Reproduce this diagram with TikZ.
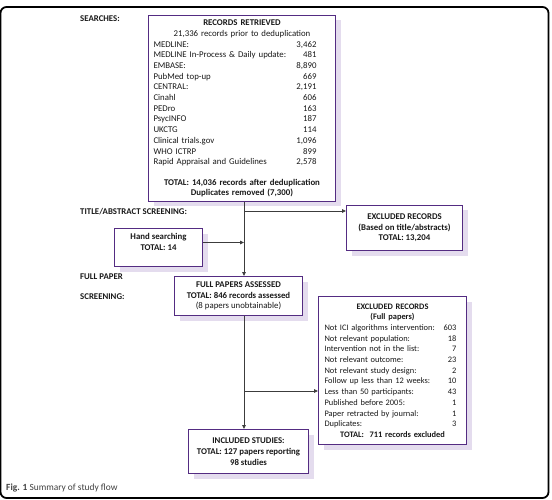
\documentclass[tikz,border=0pt]{standalone}
\usepackage{fontspec}
\setmainfont{Carlito}
\usetikzlibrary{arrows.meta, positioning, shadows}

\definecolor{boxpurple}{RGB}{84,44,130}
\definecolor{shadowlilac}{RGB}{228,220,238}
\definecolor{linkgrey}{RGB}{60,60,60}

\newcommand\srcrow[2]{\makebox[177pt][l]{\makebox[163pt]{#1\hfill#2}}}
\newcommand\exrow[2]{\makebox[138pt][l]{\hspace*{1pt}\makebox[132pt]{#1\hfill#2}}}

\begin{document}
\begin{tikzpicture}[
  x=1pt, y=-1pt,
  every node/.style={font=\fontsize{8.8}{10.7}\selectfont, text=black!90},
  box/.style={draw=boxpurple, line width=1pt, fill=white, align=center,
    inner xsep=5pt, inner ysep=3pt,
    drop shadow={shadow xshift=5pt, shadow yshift=-5pt, fill=shadowlilac, opacity=1}},
  stage/.style={font=\fontsize{8.8}{10.7}\selectfont\bfseries, anchor=west, inner sep=0pt},
  arr/.style={-{Triangle[length=4pt, width=3.5pt]}, line width=0.8pt, draw=linkgrey}
]
  \useasboundingbox (0,0) rectangle (552,500);
  \draw[line width=1.8pt, rounded corners=6pt] (0.5,7) rectangle (548.5,498);

  % stage labels
  \node[stage] (searches) at (80,19) {SEARCHES:};
  \node[stage] (tascreen) at (80,212) {TITLE/ABSTRACT SCREENING:};
  \node[stage] (fullpaper) at (80,277) {FULL PAPER};
  \node[stage] (fpscreen) at (80,297) {SCREENING:};

  % boxes
  \node[box, anchor=north west, text width=177pt, minimum height=186pt] (records) at (148,15) {%
    \textbf{RECORDS RETRIEVED}\\
    21,336 records prior to deduplication\\
    \srcrow{MEDLINE:}{3,462}\\
    \srcrow{MEDLINE In-Process \& Daily update:}{481}\\
    \srcrow{EMBASE:}{8,890}\\
    \srcrow{PubMed top-up}{669}\\
    \srcrow{CENTRAL:}{2,191}\\
    \srcrow{Cinahl}{606}\\
    \srcrow{PEDro}{163}\\
    \srcrow{PsycINFO}{187}\\
    \srcrow{UKCTG}{114}\\
    \srcrow{Clinical trials.gov}{1,096}\\
    \srcrow{WHO ICTRP}{899}\\
    \srcrow{Rapid Appraisal and Guidelines}{2,578}\\[9.6pt]
    \textbf{TOTAL: 14,036 records after deduplication}\\
    \textbf{Duplicates removed (7,300)}};

  \node[box, anchor=north west, minimum width=88pt, minimum height=38pt] (hand) at (114,228)
    {\textbf{Hand searching}\\\textbf{TOTAL: 14}\\\mbox{}};

  \node[box, anchor=north west, minimum width=116pt, minimum height=45pt] (extitle) at (346,205)
    {\textbf{EXCLUDED RECORDS}\\\textbf{(Based on title/abstracts)}\\\textbf{TOTAL: 13,204}};

  \node[box, anchor=north west, minimum width=128pt, minimum height=39pt] (fullpapers) at (174,276)
    {\textbf{FULL PAPERS ASSESSED}\\\textbf{TOTAL: 846 records assessed}\\(8 papers unobtainable)};

  \node[box, anchor=north west, text width=138pt, minimum height=148pt,
        font=\fontsize{8.4}{10.7}\selectfont] (exfull) at (318,296) {%
    \textbf{EXCLUDED RECORDS}\\
    \textbf{(Full papers)}\\
    \exrow{Not ICI algorithms intervention:}{603}\\
    \exrow{Not relevant population:}{18}\\
    \exrow{Intervention not in the list:}{7}\\
    \exrow{Not relevant outcome:}{23}\\
    \exrow{Not relevant study design:}{2}\\
    \exrow{Follow up less than 12 weeks:}{10}\\
    \exrow{Less than 50 participants:}{43}\\
    \exrow{Published before 2005:}{1}\\
    \exrow{Paper retracted by journal:}{1}\\
    \exrow{Duplicates:}{3}\\
    \textbf{TOTAL:\ \ 711 records excluded}};

  \node[box, anchor=north west, minimum width=120pt, minimum height=44pt] (included) at (188,429)
    {\textbf{INCLUDED STUDIES:}\\\textbf{TOTAL: 127 papers reporting}\\\textbf{98 studies}};

  \node[anchor=west, inner sep=0pt, text=black!75, font=\fontsize{9.4}{11}\selectfont] (caption) at (6,488)
    {\textbf{Fig. 1} Summary of study flow};

  % connectors
  \coordinate (spine) at (244,0);
  \coordinate (tasplit) at (244,211);
  \coordinate (fpsplit) at (244,391);
  \draw[arr] (records.south -| spine) -- (fullpapers.north -| spine);
  \draw[arr] (tasplit) -- (tasplit -| extitle.west);
  \draw[arr] ([yshift=5pt]hand.east) -- ([yshift=5pt]hand.east -| spine);
  \draw[arr] (fullpapers.south -| spine) -- (included.north -| spine);
  \draw[arr] (fpsplit) -- (fpsplit -| exfull.west);
\end{tikzpicture}
\end{document}
